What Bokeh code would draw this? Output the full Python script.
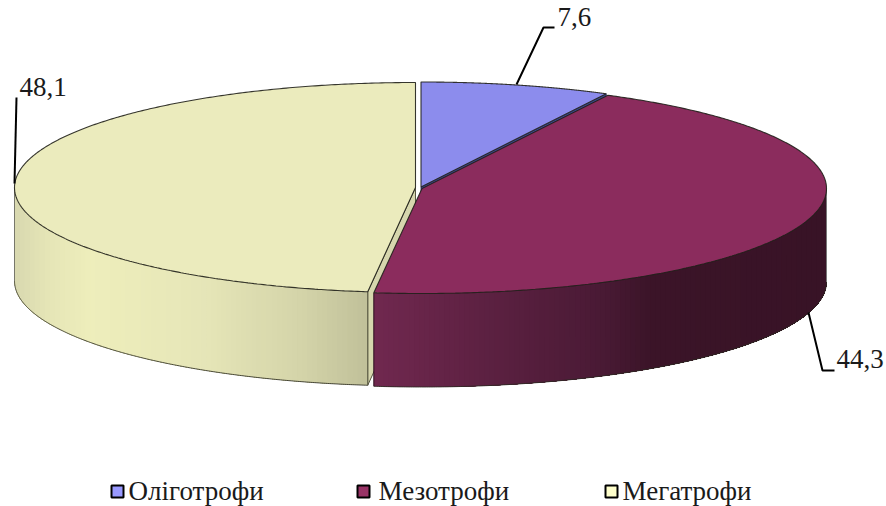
import numpy as np
from bokeh.core.properties import value
from bokeh.embed import file_html
from bokeh.models import Range1d
from bokeh.plotting import figure
from bokeh.resources import INLINE

categories = ["Оліготрофи", "Мезотрофи", "Мегатрофи"]
shares = [7.6, 44.3, 48.1]
labels = ["7,6", "44,3", "48,1"]
top_colors = ["#8c8ced", "#8b2c5d", "#ebebbd"]
legend_colors = ["#9999ff", "#993366", "#ffffcc"]

# Each slice has its own centre because the pie is exploded.
centres = [(420.5, 186.5), (421.5, 188.0), (415.0, 187.0)]
radii = [(403.0, 105.0), (404.5, 105.0), (401.0, 105.0)]
depth = 93.5

# Horizontal shading of the outer walls: (x, colour) stops.
yellow_rim = [(14, "#d8d8b0"), (50, "#e6e6b7"), (90, "#eeeebb"), (200, "#e6e6b8"),
              (300, "#d4d4a9"), (368, "#c0c099")]
purple_rim = [(375, "#70284f"), (500, "#5a2040"), (600, "#4a1a35"), (650, "#3b1428"),
              (826, "#381326")]


def hex_rgb(c):
    return np.array([int(c[i:i + 2], 16) for i in (1, 3, 5)], dtype=float)


def shade(stops, x):
    xs = [s[0] for s in stops]
    rgb = np.array([hex_rgb(s[1]) for s in stops])
    vals = [int(round(np.interp(x, xs, rgb[:, k]))) for k in range(3)]
    return "#%02x%02x%02x" % tuple(vals)


def rim_xy(i, theta):
    cx, cy = centres[i]
    rx, ry = radii[i]
    return cx + rx * np.sin(theta), cy - ry * np.cos(theta)


bounds = np.radians(np.cumsum([0] + shares) * 3.6)

p = figure(width=886, height=506, output_backend="svg", toolbar_location=None,
           x_range=Range1d(0, 886), y_range=Range1d(506, 0), min_border=0)
p.axis.visible = False
p.grid.visible = False
p.outline_line_color = None
p.background_fill_color = "white"
p.border_fill_color = "white"


def outer_wall(i, start, end, stops, band=5.0):
    """Shaded wall: bands of equal width in x, painted so each overlaps the next."""
    x0, _ = rim_xy(i, start)
    x1, _ = rim_xy(i, end)
    n = int(abs(x1 - x0) / band)
    edge_x = np.linspace(x0, x1, n + 1)
    sweep = np.linspace(min(start, end), max(start, end), 600)
    sweep_x, _ = rim_xy(i, sweep)
    order = np.argsort(sweep_x)
    edge_a = np.interp(edge_x, sweep_x[order], sweep[order])
    px, py, cols = [], [], []
    for k in range(n):
        arc = np.linspace(edge_a[k], end, 160)
        ax, ay = rim_xy(i, arc)
        px.append(list(ax) + list(ax[::-1]))
        py.append(list(ay) + list(ay[::-1] + depth))
        cols.append(shade(stops, 0.5 * (edge_x[k] + edge_x[k + 1])))
    p.patches(px, py, fill_color=cols, line_color=None)
    fine = np.linspace(start, end, 300)
    fx, fy = rim_xy(i, fine)
    p.line(fx, fy + depth, line_color="#2b2b22", line_width=1.0, line_alpha=0.85)


def top_face(i, start, end):
    angles = np.linspace(start, end, 360)
    xs, ys = rim_xy(i, angles)
    cx, cy = centres[i]
    p.patch([cx] + list(xs), [cy] + list(ys), fill_color=top_colors[i],
            line_color="#20201a", line_width=1.1, line_alpha=0.9)


# Blue slice: only a sliver of its cut face shows below the top.
bx, by = rim_xy(0, bounds[1])
p.patch([centres[0][0], bx, bx, centres[0][0]],
        [centres[0][1], by, by + depth, centres[0][1] + depth],
        fill_color="#3d4a94", line_color="#2a2a55", line_width=0.8)
top_face(0, bounds[0], bounds[1])

# Yellow slice: cut face, wall, top.
yx, yy = rim_xy(2, bounds[2])
p.patch([centres[2][0], yx, yx, centres[2][0]],
        [centres[2][1], yy, yy + depth, centres[2][1] + depth],
        fill_color="#d6d6ad", line_color="#55553f", line_width=1.0)
outer_wall(2, bounds[2], np.radians(270), yellow_rim)
lx, ly = rim_xy(2, np.radians(270))
p.line([lx, lx], [ly, ly + depth], line_color="#77776a", line_width=1)
p.line([yx, yx], [yy, yy + depth], line_color="#55553f", line_width=1)
top_face(2, bounds[2], bounds[3])

# Purple slice: wall, top.
outer_wall(1, bounds[2], np.radians(90), purple_rim)
ex, ey = rim_xy(1, bounds[2])
p.line([ex, ex], [ey, ey + depth], line_color="#2a0d1c", line_width=1)
qx, qy = rim_xy(1, np.radians(90))
p.line([qx, qx], [qy, qy + depth], line_color="#777777", line_width=1)
top_face(1, bounds[1], bounds[2])

# Leader lines and value labels.
leaders = [([516, 543, 554], [84, 27, 27]),
           ([808, 822, 834], [312, 370, 370]),
           ([14, 16], [183, 97])]
for lxs, lys in leaders:
    p.line(lxs, lys, line_color="black", line_width=2)

label_x = [557, 836, 19]
label_y = [16, 358.5, 86]
p.text(label_x, label_y, text=labels, text_font=value("Liberation Serif"),
       text_font_size="27px", text_color="#1a1a1a", text_baseline="middle")

# Legend row.
key_x = [117, 363, 611]
key_y = 491
text_x = [128, 378, 622]
p.rect(key_x, [key_y] * 3, width=12, height=12, fill_color=legend_colors,
       line_color="black", line_width=2)
p.text(text_x, [key_y - 1] * 3, text=categories, text_font=value("Liberation Serif"),
       text_font_size="27px", text_color="#1a1a1a", text_baseline="middle")

open("out.html", "w").write(file_html(p, INLINE))
